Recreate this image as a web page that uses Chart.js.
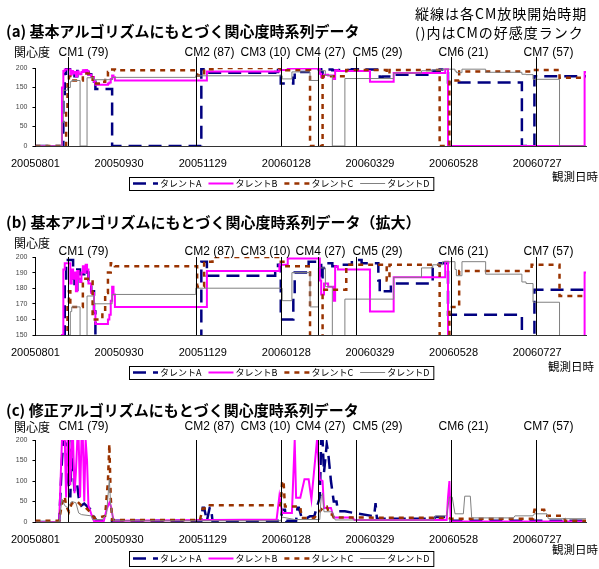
<!DOCTYPE html>
<html>
<head>
<meta charset="utf-8">
<script src="https://cdn.jsdelivr.net/npm/chart.js@4.4.0/dist/chart.umd.min.js"></script>
<style>
  body { margin: 0; background: #fff; }
  #wrap { position: relative; width: 599px; height: 569px; }
  canvas { position: absolute; left: 0; }
</style>
</head>
<body>
<div id="wrap">
  <canvas id="chartA" width="599" height="195" style="top:0px"></canvas>
  <canvas id="chartB" width="599" height="190" style="top:195px"></canvas>
  <canvas id="chartC" width="599" height="184" style="top:385px"></canvas>
</div>
<script>
'use strict';

// 凡例・目盛
const seriesNames = ['タレントA', 'タレントB', 'タレントC', 'タレントD'];
const tickDays = [0, 60, 120, 180, 240, 300, 360];   // 20050801からの日数
const tickLabels = ['20050801', '20050930', '20051129', '20060128', '20060329', '20060528', '20060727'];

// CM放映開始（日数）と好感度ランク
const cmDays = [23, 115, 176, 203, 230, 298, 359];
const cmNames = ['CM1 (79)', 'CM2 (87)', 'CM3 (10)', 'CM4 (27)', 'CM5 (29)', 'CM6 (21)', 'CM7 (57)'];

// 基本アルゴリズム (a)(b) : 日数 / 関心度（変化点）
const basicDaysA = [0, 20, 21, 22, 26, 27, 28, 30, 32, 35, 37, 38, 40, 42, 43, 55, 119, 123, 172, 174, 176, 185, 186, 196, 205, 206, 209, 213, 218, 227, 234, 246, 247, 249, 255, 285, 290, 296, 349, 358, 395];
const basicValsA = [0, 120, 185, 198, 198, 186, 179, 192, 189, 192, 190, 184, 178, 165, 146, 0, 197, 188, 190, 195, 160, 175, 190, 197, 185, 193, 196, 194, 195, 198, 196, 185, 177, 178, 183, 193, 196, 163, 0, 179, 179];

const basicDaysB = [0, 19, 20, 21, 24, 25, 26, 27, 28, 29, 30, 31, 32, 33, 34, 35, 36, 37, 38, 40, 42, 43, 51, 52, 53, 54, 55, 56, 57, 123, 175, 181, 204, 205, 207, 210, 214, 215, 217, 240, 257, 294, 296, 394, 395];
const basicValsB = [0, 150, 192, 196, 196, 183, 192, 186, 190, 178, 191, 186, 184, 190, 194, 190, 195, 192, 183, 177, 165, 157, 157, 160, 163, 172, 181, 176, 168, 191, 195, 199, 185, 176, 183, 181, 172, 194, 192, 165, 187, 197, 0, 190, 190];

const basicDaysC = [0, 22, 23, 24, 25, 34, 41, 48, 50, 52, 54, 57, 116, 121, 127, 176, 180, 197, 206, 223, 252, 254, 290, 297, 304, 356, 376, 395];
const basicValsC = [0, 90, 170, 178, 168, 186, 160, 165, 177, 190, 196, 194, 181, 197, 200, 197, 194, 0, 179, 195, 185, 195, 0, 168, 191, 195, 175, 175];

const basicDaysD = [0, 19, 20, 23, 25, 26, 32, 37, 42, 55, 115, 177, 184, 197, 203, 208, 213, 222, 257, 277, 285, 292, 301, 302, 306, 323, 349, 352, 357, 376, 395];
const basicValsD = [0, 60, 143, 150, 165, 168, 0, 175, 170, 176, 180, 172, 190, 168, 193, 181, 0, 173, 187, 193, 195, 197, 192, 188, 197, 189, 184, 183, 171, 0, 0];

// 修正アルゴリズム (c)
const fixedDaysA = [0, 17, 19, 20, 22, 23, 25, 26, 27, 28, 30, 31, 33, 35, 38, 40, 42, 44, 119, 120, 121, 123, 125, 126, 127, 176, 177, 179, 180, 187, 188, 189, 191, 195, 197, 200, 204, 205, 206, 207, 209, 210, 212, 214, 216, 217, 222, 232, 243, 244, 245, 286, 287, 295, 296, 395];
const fixedValsA = [0, 0, 150, 200, 190, 110, 60, 200, 130, 75, 90, 60, 40, 45, 35, 30, 12, 3, 3, 35, 35, 3, 35, 35, 3, 3, 30, 30, 3, 3, 35, 35, 10, 10, 14, 14, 60, 200, 200, 120, 190, 170, 100, 50, 50, 26, 26, 20, 14, 46, 8, 8, 12, 12, 3, 3];

const fixedDaysB = [0, 17, 19, 21, 22, 23, 24, 25, 26, 27, 28, 29, 30, 31, 32, 33, 34, 35, 36, 37, 38, 40, 42, 49, 51, 53, 54, 56, 173, 175, 177, 184, 186, 187, 190, 193, 196, 198, 202, 204, 206, 207, 212, 214, 227, 229, 295, 296, 297, 298, 395];
const fixedValsB = [0, 0, 200, 200, 60, 200, 200, 90, 200, 200, 70, 120, 200, 200, 60, 200, 200, 50, 200, 150, 40, 20, 2, 2, 30, 47, 40, 3, 6, 63, 22, 22, 200, 59, 59, 104, 104, 55, 200, 104, 100, 34, 34, 11, 11, 5, 5, 60, 100, 2, 1];

const fixedDaysC = [0, 17, 19, 21, 22, 24, 26, 30, 33, 36, 39, 42, 47, 50, 52, 53, 54, 55, 118, 120, 124, 125, 176, 177, 178, 179, 190, 191, 200, 207, 209, 211, 213, 214, 296, 298, 357, 358, 365, 366, 379, 380, 395];
const fixedValsC = [3, 3, 45, 62, 40, 25, 45, 50, 40, 35, 25, 10, 12, 15, 100, 190, 60, 5, 5, 33, 33, 41, 41, 100, 100, 38, 38, 10, 10, 38, 38, 18, 18, 11, 10, 8, 8, 30, 30, 15, 15, 3, 3];

const fixedDaysD = [0, 17, 19, 21, 23, 26, 29, 31, 33, 40, 41, 48, 51, 53, 54, 56, 176, 177, 186, 204, 205, 206, 207, 213, 215, 286, 287, 295, 297, 299, 301, 307, 308, 312, 313, 343, 344, 357, 358, 367, 368, 395];
const fixedValsD = [0, 0, 55, 40, 35, 50, 47, 22, 18, 15, 6, 6, 20, 104, 40, 3, 3, 12, 6, 6, 63, 70, 25, 25, 5, 5, 15, 15, 61, 61, 20, 20, 63, 63, 10, 10, 15, 15, 20, 20, 8, 8];

const lineStyles = [
  { borderColor: '#000080', borderWidth: 2.5, borderDash: [13, 7], order: 4 },
  { borderColor: '#ff00ff', borderWidth: 2, borderDash: [], order: 3 },
  { borderColor: '#993300', borderWidth: 2.5, borderDash: [5, 5], order: 2 },
  { borderColor: '#808080', borderWidth: 1, borderDash: [], order: 1 }
];
const cmLabelDx = [-10, -12, -41, -23, -4, -13, -13];

const JP = '"Noto Sans CJK JP", sans-serif';
const EN = '"Liberation Sans", Arial, sans-serif';

function toPoints(days, vals) {
  return days.map((d, i) => ({ x: d, y: vals[i] }));
}

function makeDatasets(pairs, stepped) {
  return pairs.map((p, i) => Object.assign({
    label: seriesNames[i],
    data: toPoints(p[0], p[1]),
    stepped: stepped,
    pointRadius: 0,
    fill: false,
    tension: 0
  }, lineStyles[i]));
}

// タイトル・CM縦線・凡例など
const decorPlugin = {
  id: 'decor',
  afterDraw(chart, args, o) {
    const ctx = chart.ctx;
    const xs = chart.scales.x;
    const area = chart.chartArea;
    ctx.save();
    ctx.fillStyle = '#000';
    ctx.textBaseline = 'middle';
    ctx.textAlign = 'left';

    ctx.font = 'bold 15px ' + JP;
    ctx.fillText(o.title, 6, o.titleY);

    if (o.note) {
      ctx.font = '14px ' + JP;
      ctx.letterSpacing = '1px';
      ctx.fillText('縦線は各CM放映開始時期', 415, 14);
      ctx.fillText('()内はCMの好感度ランク', 415, 32.5);
      ctx.letterSpacing = '0px';
    }

    ctx.font = '12px ' + JP;
    ctx.fillText('関心度', 14, o.yTitleY);

    ctx.font = '11.5px ' + JP;
    ctx.textAlign = 'right';
    ctx.fillText('観測日時', o.obsX, o.obsY);
    ctx.textAlign = 'left';

    ctx.strokeStyle = '#000';
    ctx.lineWidth = 1;
    ctx.font = '12px ' + EN;
    cmDays.forEach((d, i) => {
      const px = Math.round(xs.getPixelForValue(d)) + 0.5;
      ctx.beginPath();
      ctx.moveTo(px, o.cmLineTop);
      ctx.lineTo(px, area.bottom);
      ctx.stroke();
      ctx.fillText(cmNames[i], px + cmLabelDx[i], o.cmY);
    });

    // 凡例
    const ly = o.legendTop + o.legendH / 2;
    let lx = 133;
    ctx.font = '9px ' + JP;
    chart.data.datasets.forEach(ds => {
      ctx.save();
      ctx.strokeStyle = ds.borderColor;
      ctx.lineWidth = ds.borderWidth;
      ctx.setLineDash(ds.borderDash);
      ctx.beginPath();
      ctx.moveTo(lx, ly);
      ctx.lineTo(lx + 25, ly);
      ctx.stroke();
      ctx.restore();
      lx += 27;
      ctx.fillText(ds.label, lx, ly + 0.5);
      lx += ctx.measureText(ds.label).width + 7;
    });
    ctx.strokeStyle = '#000';
    ctx.strokeRect(129.5, o.legendTop + 0.5, lx - 3 - 129, o.legendH);
    ctx.restore();
  }
};

function makeChart(id, datasets, yMin, yMax, yStep, top, xHeight, decor) {
  return new Chart(document.getElementById(id).getContext('2d'), {
    type: 'line',
    data: { datasets: datasets },
    options: {
      responsive: false,
      animation: false,
      layout: { padding: { left: 0, right: 13, top: top, bottom: 0 } },
      plugins: { legend: { display: false }, tooltip: { enabled: false }, decor: decor },
      scales: {
        x: {
          type: 'linear', min: 0, max: 395,
          afterBuildTicks: s => { s.ticks = tickDays.map(v => ({ value: v })); },
          afterFit: s => { s.height = xHeight; },
          ticks: {
            callback: v => tickLabels[tickDays.indexOf(v)],
            autoSkip: false, maxRotation: 0, padding: 11,
            font: { family: EN, size: 11 }, color: '#000'
          },
          grid: { display: false, drawTicks: false },
          border: { display: true, color: '#333', width: 1 }
        },
        y: {
          min: yMin, max: yMax,
          afterFit: s => { s.width = 32; },
          ticks: { stepSize: yStep, padding: 5, font: { family: EN, size: 7 }, color: '#444' },
          grid: { drawOnChartArea: false, drawTicks: true, tickLength: 3, color: '#000' },
          border: { display: true, color: '#000', width: 1 }
        }
      }
    },
    plugins: [decorPlugin]
  });
}

const basicPairs = [[basicDaysA, basicValsA], [basicDaysB, basicValsB], [basicDaysC, basicValsC], [basicDaysD, basicValsD]];
const fixedPairs = [[fixedDaysA, fixedValsA], [fixedDaysB, fixedValsB], [fixedDaysC, fixedValsC], [fixedDaysD, fixedValsD]];

makeChart('chartA', makeDatasets(basicPairs, true), 0, 200, 50, 68, 49, {
  title: '(a) 基本アルゴリズムにもとづく関心度時系列データ', titleY: 31.5, note: true,
  yTitleY: 52.5, cmY: 52.5, cmLineTop: 57, obsX: 598, obsY: 177, legendTop: 177, legendH: 13
});
makeChart('chartB', makeDatasets(basicPairs, true), 150, 200, 10, 62, 50, {
  title: '(b) 基本アルゴリズムにもとづく関心度時系列データ（拡大）', titleY: 27, note: false,
  yTitleY: 48.5, cmY: 56.7, cmLineTop: 62, obsX: 594, obsY: 171.7, legendTop: 171, legendH: 13
});
makeChart('chartC', makeDatasets(fixedPairs, false), 0, 200, 50, 55, 47, {
  title: '(c) 修正アルゴリズムにもとづく関心度時系列データ', titleY: 25.5, note: false,
  yTitleY: 42, cmY: 42, cmLineTop: 55, obsX: 598, obsY: 165, legendTop: 166, legendH: 15
});
</script>
</body>
</html>
